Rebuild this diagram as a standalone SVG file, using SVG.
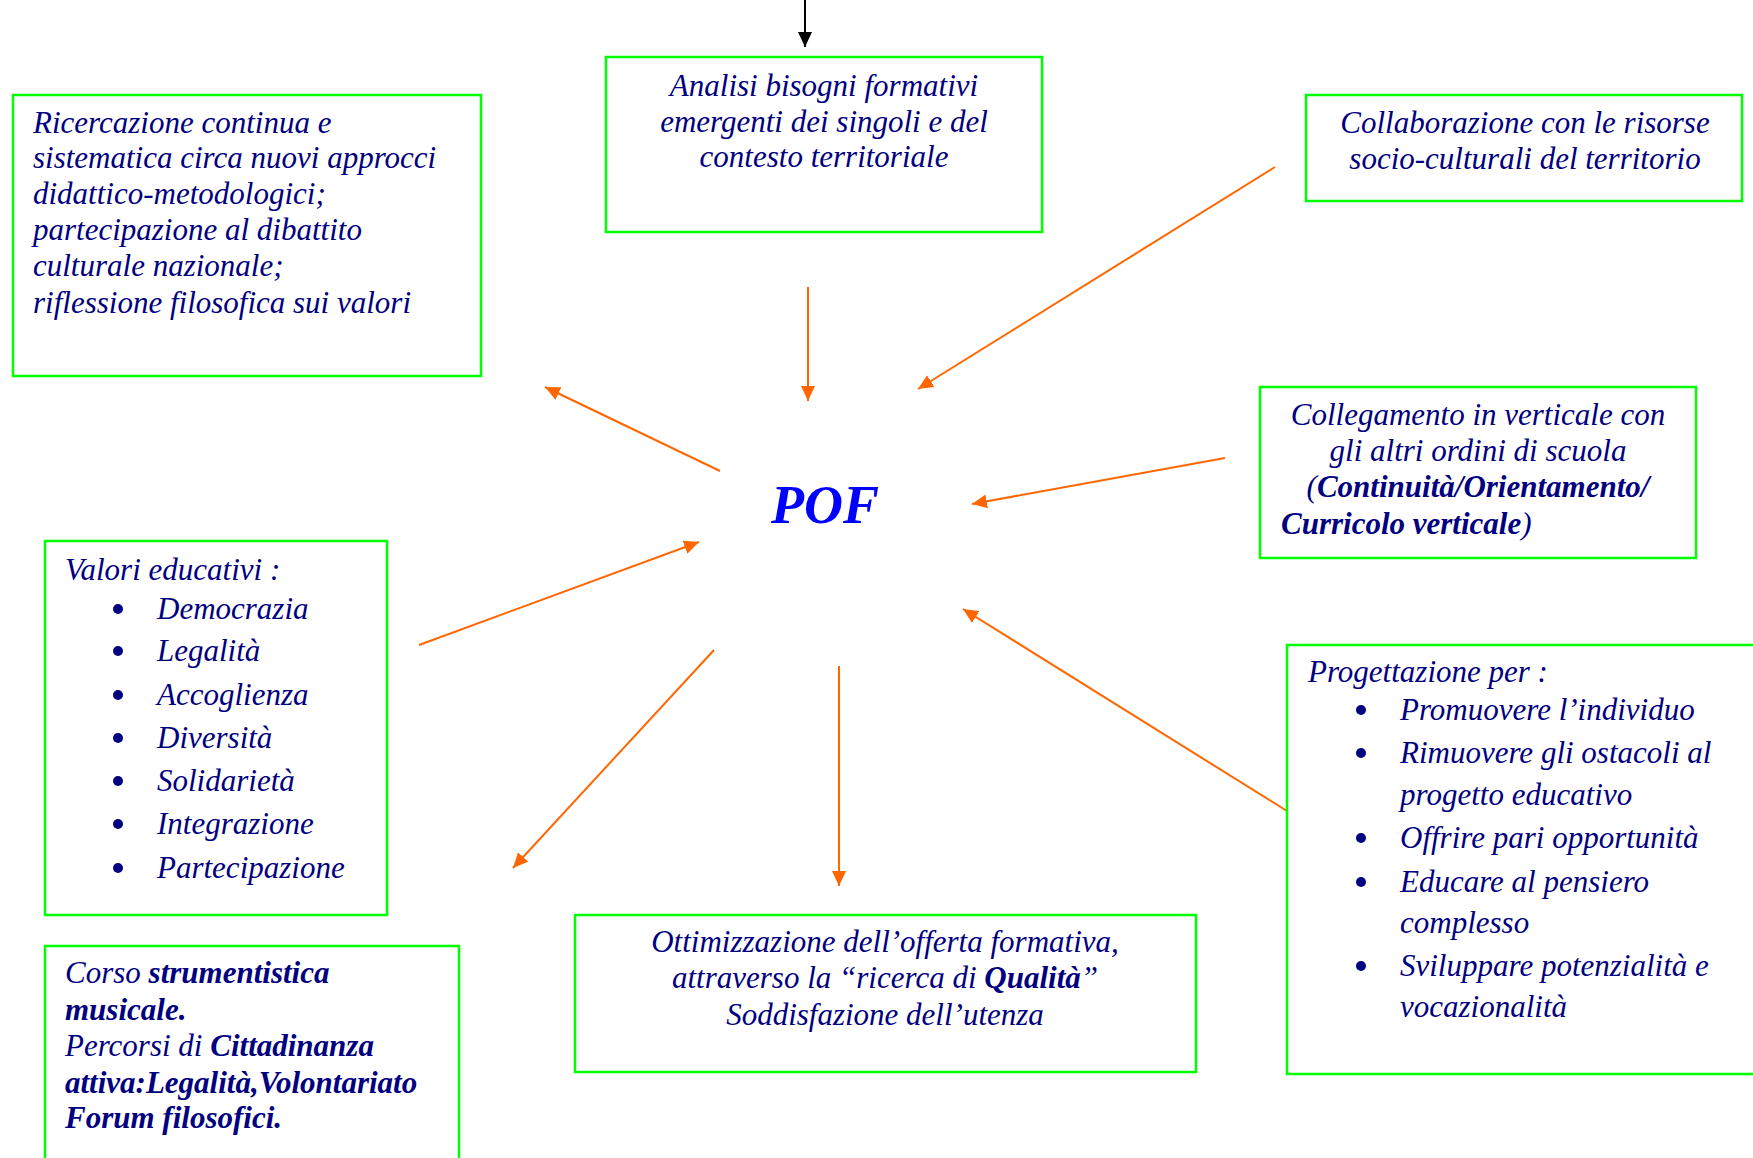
<svg xmlns="http://www.w3.org/2000/svg" width="1753" height="1158" viewBox="0 0 1753 1158">
<style>
.box{fill:#fff;stroke:#00ff00;stroke-width:2.5}
.t{font-family:"Liberation Serif","Times New Roman",serif;font-style:italic;font-size:31px;fill:#000080}
.b{font-weight:bold}
.n{font-weight:normal}
.c{text-anchor:middle}
.bul{fill:#000080}
.arr{stroke:#ff6600;stroke-width:2;fill:none;marker-end:url(#ho)}
</style>
<defs>
<marker id="ho" markerUnits="userSpaceOnUse" markerWidth="16" markerHeight="14" refX="15" refY="7" orient="auto"><path d="M0,0 L15,7 L0,14 z" fill="#ff6600"/></marker>
<marker id="hb" markerUnits="userSpaceOnUse" markerWidth="16" markerHeight="14" refX="15" refY="7" orient="auto"><path d="M0,0 L15,7 L0,14 z" fill="#000"/></marker>
</defs>
<rect width="1753" height="1158" fill="#fff"/>

<g id="connectors">
<line x1="805" y1="0" x2="805" y2="47" stroke="#000" stroke-width="2" marker-end="url(#hb)"/>
<line class="arr" x1="808" y1="287" x2="808" y2="401"/>
<line class="arr" x1="1275" y1="167" x2="918" y2="389"/>
<line class="arr" x1="720" y1="471" x2="545" y2="387"/>
<line class="arr" x1="1225" y1="458" x2="972" y2="504"/>
<line class="arr" x1="419" y1="645" x2="699" y2="542"/>
<line class="arr" x1="714" y1="650" x2="513" y2="868"/>
<line class="arr" x1="839" y1="666" x2="839" y2="886"/>
<line class="arr" x1="1287" y1="811" x2="963" y2="609"/>
</g>

<g id="pof">
<text x="825" y="523" class="c" style="font-family:'Liberation Serif','Times New Roman',serif;font-style:italic;font-weight:bold;font-size:54px;fill:#0000ff">POF</text>
</g>

<g id="analisi">
<rect class="box" x="606" y="57" width="436" height="175"/>
<text class="t c" x="824" y="96">Analisi bisogni formativi</text>
<text class="t c" x="824" y="132">emergenti dei singoli e del</text>
<text class="t c" x="824" y="167">contesto territoriale</text>
</g>

<g id="ricercazione">
<rect class="box" x="13" y="95" width="468" height="281"/>
<text class="t" x="33" y="133">Ricercazione continua e</text>
<text class="t" x="33" y="168">sistematica circa nuovi approcci</text>
<text class="t" x="33" y="204">didattico-metodologici;</text>
<text class="t" x="33" y="240">partecipazione al dibattito</text>
<text class="t" x="33" y="276">culturale nazionale;</text>
<text class="t" x="33" y="313">riflessione filosofica sui valori</text>
</g>

<g id="collaborazione">
<rect class="box" x="1306" y="95" width="436" height="106"/>
<text class="t c" x="1525" y="133">Collaborazione con le risorse</text>
<text class="t c" x="1525" y="169">socio-culturali del territorio</text>
</g>

<g id="collegamento">
<rect class="box" x="1260" y="387" width="436" height="171"/>
<text class="t c" x="1478" y="425">Collegamento in verticale con</text>
<text class="t c" x="1478" y="461">gli altri ordini di scuola</text>
<text class="t c" x="1478" y="497">(<tspan class="b">Continuità/Orientamento/</tspan></text>
<text class="t" x="1281" y="534"><tspan class="b">Curricolo verticale</tspan>)</text>
</g>

<g id="valori">
<rect class="box" x="45" y="541" width="342" height="374"/>
<text class="t" x="65" y="580">Valori educativi :</text>
<circle class="bul" cx="118" cy="609" r="5"/><text class="t" x="157" y="619">Democrazia</text>
<circle class="bul" cx="118" cy="651" r="5"/><text class="t" x="157" y="661">Legalità</text>
<circle class="bul" cx="118" cy="695" r="5"/><text class="t" x="157" y="705">Accoglienza</text>
<circle class="bul" cx="118" cy="738" r="5"/><text class="t" x="157" y="748">Diversità</text>
<circle class="bul" cx="118" cy="781" r="5"/><text class="t" x="157" y="791">Solidarietà</text>
<circle class="bul" cx="118" cy="824" r="5"/><text class="t" x="157" y="834">Integrazione</text>
<circle class="bul" cx="118" cy="868" r="5"/><text class="t" x="157" y="878">Partecipazione</text>
</g>

<g id="progettazione">
<rect class="box" x="1287" y="645" width="480" height="429"/>
<text class="t" x="1308" y="682">Progettazione per :</text>
<circle class="bul" cx="1361" cy="710" r="5"/><text class="t" x="1400" y="720">Promuovere l’individuo</text>
<circle class="bul" cx="1361" cy="753" r="5"/><text class="t" x="1400" y="763">Rimuovere gli ostacoli al</text>
<text class="t" x="1400" y="805">progetto educativo</text>
<circle class="bul" cx="1361" cy="838" r="5"/><text class="t" x="1400" y="848">Offrire pari opportunità</text>
<circle class="bul" cx="1361" cy="882" r="5"/><text class="t" x="1400" y="892">Educare al pensiero</text>
<text class="t" x="1400" y="933">complesso</text>
<circle class="bul" cx="1361" cy="966" r="5"/><text class="t" x="1400" y="976">Sviluppare potenzialità e</text>
<text class="t" x="1400" y="1017">vocazionalità</text>
</g>

<g id="corso">
<rect class="box" x="45" y="946" width="414" height="230"/>
<text class="t" x="65" y="983">Corso <tspan class="b">strumentistica</tspan></text>
<text class="t b" x="65" y="1020">musicale.</text>
<text class="t" x="65" y="1056">Percorsi di <tspan class="b">Cittadinanza</tspan></text>
<text class="t b" x="65" y="1093">attiva:Legalità,Volontariato</text>
<text class="t b" x="65" y="1128">Forum filosofici.</text>
</g>

<g id="ottimizzazione">
<rect class="box" x="575" y="915" width="621" height="157"/>
<text class="t c" x="885" y="952">Ottimizzazione dell’offerta formativa,</text>
<text class="t c" x="885" y="988">attraverso la “ricerca di <tspan class="b">Qualità</tspan>”</text>
<text class="t c" x="885" y="1025">Soddisfazione dell’utenza</text>
</g>
</svg>
